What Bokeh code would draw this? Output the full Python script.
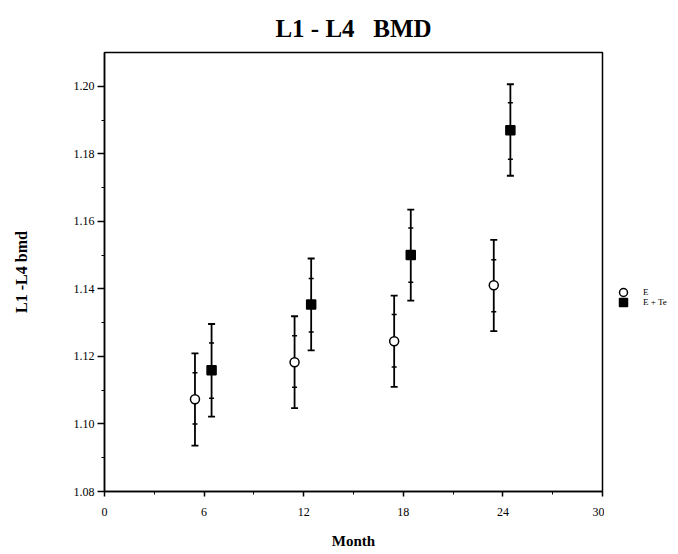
from bokeh.plotting import figure
from bokeh.layouts import row
from bokeh.models import (ColumnDataSource, Legend, LegendItem, FixedTicker,
                          PrintfTickFormatter, Range1d)
from bokeh.embed import file_html
from bokeh.resources import INLINE

# ---- data ----
months = [6, 12, 18, 24]

e_mean = [1.1073, 1.1183, 1.1245, 1.1411]
e_lo95 = [1.0936, 1.1047, 1.1110, 1.1275]
e_hi95 = [1.1209, 1.1319, 1.1380, 1.1545]
e_lose = [1.1000, 1.1109, 1.1169, 1.1332]
e_hise = [1.1152, 1.1261, 1.1324, 1.1486]

et_mean = [1.1159, 1.1354, 1.1500, 1.1870]
et_lo95 = [1.1022, 1.1218, 1.1365, 1.1735]
et_hi95 = [1.1296, 1.1490, 1.1635, 1.2006]
et_lose = [1.1076, 1.1272, 1.1420, 1.1784]
et_hise = [1.1240, 1.1431, 1.1580, 1.1951]

x_ticks = [0, 6, 12, 18, 24, 30]
x_minor = [3, 9, 15, 21, 27]
y_ticks = [1.08, 1.10, 1.12, 1.14, 1.16, 1.18, 1.20]
y_minor = [1.09, 1.11, 1.13, 1.15, 1.17, 1.19]

series_names = ["E", "E + Te"]

E_SHIFT = -0.55
ET_SHIFT = 0.45

SERIF = "Liberation Serif"
FW, FH = 498, 439
TOP, BOTTOM, LEFT, RIGHT = 52, 60, 104, 2
TOTAL_H = TOP + FH + BOTTOM
LEG_W = 70

p = figure(frame_width=FW, frame_height=FH, output_backend="svg", toolbar_location=None,
           x_range=Range1d(0, 30), y_range=Range1d(1.08, 1.21),
           min_border_left=LEFT, min_border_right=RIGHT, min_border_top=TOP,
           min_border_bottom=BOTTOM, title="L1 - L4\u00a0\u00a0 BMD")

p.background_fill_color = "white"
p.border_fill_color = "white"
p.outline_line_color = "black"
p.outline_line_width = 1.5
p.xgrid.visible = False
p.ygrid.visible = False

p.title.align = "center"
p.title.text_font = SERIF
p.title.text_font_size = "25px"
p.title.text_font_style = "bold"
p.title.text_color = "black"
p.title.standoff = 21

for ax in (p.xaxis[0], p.yaxis[0]):
    ax.axis_line_width = 1.5
    ax.axis_line_color = "black"
    ax.major_tick_line_color = "black"
    ax.major_tick_line_width = 1.5
    ax.minor_tick_line_color = "black"
    ax.major_tick_in = 0
    ax.minor_tick_in = 0
    ax.minor_tick_out = 3
    ax.major_label_text_font = SERIF
    ax.major_label_text_font_size = "12px"
    ax.major_label_text_color = "black"
    ax.axis_label_text_font = SERIF
    ax.axis_label_text_font_style = "bold"
    ax.axis_label_text_font_size = "16px"
    ax.axis_label_text_color = "black"

p.xaxis.ticker = FixedTicker(ticks=x_ticks, minor_ticks=x_minor)
p.yaxis.ticker = FixedTicker(ticks=y_ticks, minor_ticks=y_minor)
p.yaxis.formatter = PrintfTickFormatter(format="%.2f")
p.xaxis.major_tick_out = 5
p.yaxis.major_tick_out = 7
p.xaxis.major_label_standoff = 11
p.yaxis.major_label_standoff = 3
p.xaxis.axis_label = "Month"
p.xaxis.axis_label_text_font_size = "15px"
p.yaxis.axis_label = "L1 -L4 bmd"
p.xaxis.axis_label_standoff = 14
p.yaxis.axis_label_standoff = 41

def series(shift, mean, lo95, hi95, lose, hise):
    xs = [m + shift for m in months]
    return ColumnDataSource(dict(x=xs, mean=mean, lo95=lo95, hi95=hi95,
                                 lose=lose, hise=hise))

src_e = series(E_SHIFT, e_mean, e_lo95, e_hi95, e_lose, e_hise)
src_et = series(ET_SHIFT, et_mean, et_lo95, et_hi95, et_lose, et_hise)

styles = [("circle", "white"), ("square", "black")]
for src, (marker, fill) in zip((src_e, src_et), styles):
    p.segment(x0="x", y0="lo95", x1="x", y1="hi95", source=src,
              line_color="black", line_width=1.8)
    for col in ("lo95", "hi95"):
        p.scatter(x="x", y=col, source=src, marker="dash", size=7,
                  line_color="black", line_width=1.8)
    for col in ("lose", "hise"):
        p.scatter(x="x", y=col, source=src, marker="dash", size=5,
                  line_color="black", line_width=1.5)
    p.scatter(x="x", y="mean", source=src, marker=marker, size=9,
              fill_color=fill, line_color="black", line_width=1.5)

# ---- legend panel (separate narrow figure to the right of the frame) ----
lp = figure(frame_width=LEG_W, frame_height=TOTAL_H, output_backend="svg",
            toolbar_location=None, x_range=Range1d(0, 1), y_range=Range1d(0, 1),
            min_border=0, outline_line_color=None)
lp.axis.visible = False
lp.grid.visible = False
lp.background_fill_color = "white"
lp.border_fill_color = "white"

# legend renderers use the series data; it lies outside this panel's ranges,
# so only the legend glyphs show
for i, (src, (marker, fill), name) in enumerate(zip((src_e, src_et), styles, series_names)):
    r = lp.scatter(x="x", y="mean", source=src, marker=marker, size=9,
                   fill_color=fill, line_color="black", line_width=1.5)
    leg = Legend(items=[LegendItem(label=name, renderers=[r])],
                 location=(9, TOTAL_H - 302 - 10 * i))
    leg.border_line_color = None
    leg.background_fill_alpha = 0
    leg.label_text_font = SERIF
    leg.label_text_font_size = "9px"
    leg.label_text_color = "black"
    leg.glyph_width = 20
    leg.glyph_height = 20
    leg.label_height = 10
    leg.padding = 0
    leg.margin = 0
    leg.label_standoff = 10
    lp.add_layout(leg, "center")

layout = row(p, lp)
open("out.html", "w").write(file_html(layout, INLINE))
